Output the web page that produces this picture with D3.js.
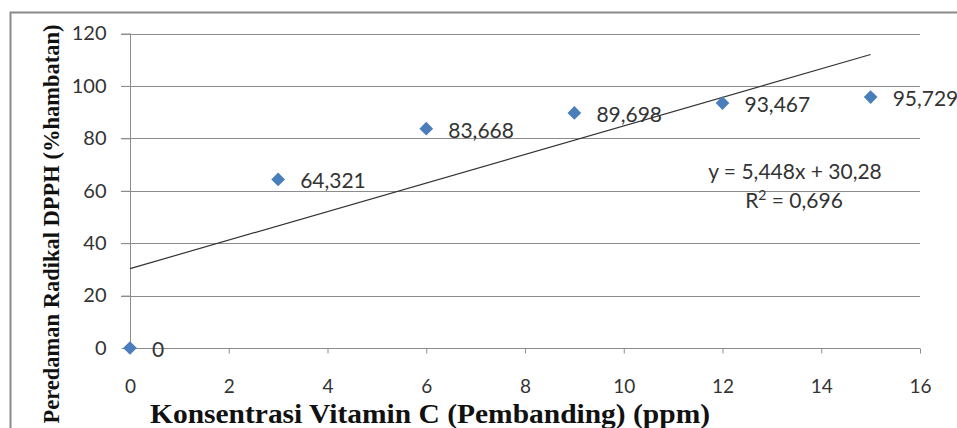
<!DOCTYPE html>
<html><head><meta charset="utf-8">
<script src="https://cdn.jsdelivr.net/npm/d3@7"></script>
<style>body{margin:0;background:#fff}svg{display:block}</style>
</head><body><svg id="c" width="957" height="428"></svg>
<script>
const xValues = [0, 3, 6, 9, 12, 15];
const yValues = [0, 64.321, 83.668, 89.698, 93.467, 95.729];
const pointLabels = ["0", "64,321", "83,668", "89,698", "93,467", "95,729"];
const xTicks = [0, 2, 4, 6, 8, 10, 12, 14, 16];
const yTicks = [0, 20, 40, 60, 80, 100, 120];
const trendSlope = 5.448, trendIntercept = 30.28;
const equationText = "y = 5,448x + 30,28";
const xTitle = "Konsentrasi Vitamin C (Pembanding) (ppm)";
const yTitle = "Peredaman Radikal DPPH (%hambatan)";

const svg = d3.select("#c");
const x = d3.scaleLinear().domain([0, 16]).range([130, 920]);
const y = d3.scaleLinear().domain([0, 120]).range([348, 33.5]);
const tickFont = "Lato, 'Open Sans', sans-serif";
const textColor = "#333";

// outer border
svg.append("rect").attr("x", 10.5).attr("y", 12.5).attr("width", 960).attr("height", 430)
  .attr("fill", "none").attr("stroke", "#8a8a8a").attr("stroke-width", 2);

// gridlines
svg.append("g").selectAll("line").data(yTicks.filter(d => d > 0)).join("line")
  .attr("x1", 121).attr("x2", 920).attr("y1", d => Math.round(y(d)) + 0.5).attr("y2", d => Math.round(y(d)) + 0.5)
  .attr("stroke", "#8c8c8c").attr("stroke-width", 1);

// y axis
const ya = svg.append("g").attr("transform", "translate(130.5,0)")
  .call(d3.axisLeft(y).tickValues(yTicks).tickSize(9).tickPadding(15));
ya.select(".domain").attr("stroke", "#8c8c8c").attr("d", `M0,${y(120)}V${y(0)}`);
ya.selectAll(".tick line").attr("stroke", "#8c8c8c");
ya.selectAll("text").attr("font-family", tickFont).attr("font-size", 20).attr("fill", textColor);

// x axis
const xa = svg.append("g").attr("transform", `translate(0,${Math.round(y(0)) + 0.5})`)
  .call(d3.axisBottom(x).tickValues(xTicks).tickSize(5));
xa.select(".domain").attr("stroke", "#8c8c8c").attr("d", `M${x(0)},0H${x(16)}`);
xa.selectAll(".tick line").attr("stroke", "#8c8c8c");
xa.selectAll("text").attr("y", 44).attr("dy", 0)
  .attr("font-family", tickFont).attr("font-size", 19).attr("fill", textColor);

// trendline
svg.append("line")
  .attr("x1", x(0)).attr("y1", y(trendIntercept))
  .attr("x2", x(15)).attr("y2", y(trendSlope * 15 + trendIntercept))
  .attr("stroke", "#333").attr("stroke-width", 1.2);

// points
const data = xValues.map((v, i) => ({x: v, y: yValues[i], label: pointLabels[i]}));
svg.append("g").selectAll("path").data(data).join("path")
  .attr("d", d3.symbol(d3.symbolDiamond2, 120))
  .attr("transform", d => `translate(${x(d.x)},${y(d.y)})`)
  .attr("fill", "#4a7ebb");

svg.append("g").selectAll("text").data(data).join("text")
  .attr("x", d => x(d.x) + 22).attr("y", d => y(d.y) + 9)
  .attr("font-family", tickFont).attr("font-size", 21).attr("fill", textColor)
  .text(d => d.label);

// equation
svg.append("text").attr("x", 795).attr("y", 179).attr("text-anchor", "middle")
  .attr("font-family", tickFont).attr("font-size", 21).attr("fill", textColor).text(equationText);
const r2 = svg.append("text").attr("x", 794).attr("y", 208).attr("text-anchor", "middle")
  .attr("font-family", tickFont).attr("font-size", 21).attr("fill", textColor);
r2.append("tspan").text("R");
r2.append("tspan").attr("dy", -8).attr("font-size", 14).text("2");
r2.append("tspan").attr("dy", 8).text(" = 0,696");

// titles
svg.append("text").attr("x", 430).attr("y", 423).attr("text-anchor", "middle")
  .attr("font-family", "'Liberation Serif', 'Times New Roman', serif").attr("font-weight", "bold")
  .attr("font-size", 28).attr("fill", "#111")
  .attr("textLength", 560).attr("lengthAdjust", "spacingAndGlyphs").text(xTitle);
svg.append("text").attr("transform", "translate(59,224) rotate(-90)").attr("text-anchor", "middle")
  .attr("font-family", "'Liberation Serif', 'Times New Roman', serif").attr("font-weight", "bold")
  .attr("font-size", 22.5).attr("fill", "#111").text(yTitle);
</script></body></html>
